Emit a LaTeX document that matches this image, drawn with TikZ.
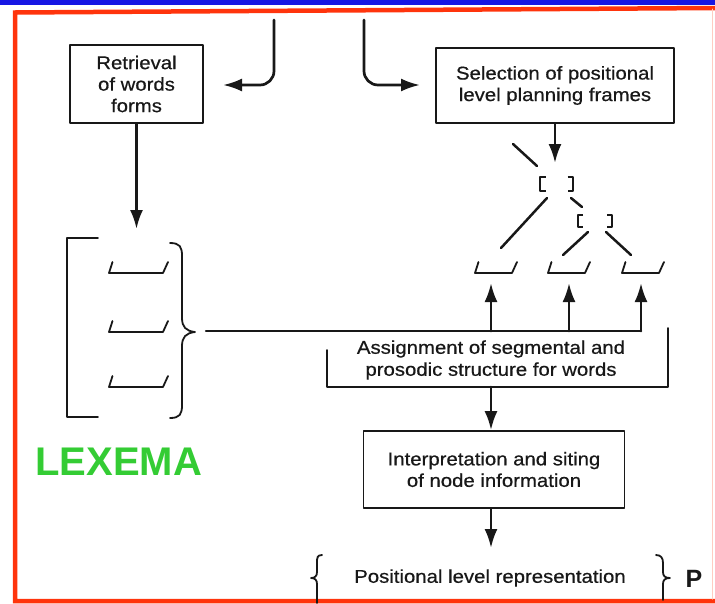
\documentclass[tikz,border=0pt]{standalone}
\usepackage{fontspec}
\setmainfont{Liberation Sans}[FakeStretch=1.1,FakeBold=0.6]
\newfontfamily\labelfont{Liberation Sans}
\usetikzlibrary{arrows.meta}
\definecolor{ink}{RGB}{24,24,24}
\definecolor{framered}{RGB}{255,52,12}
\definecolor{bandblue}{RGB}{22,22,228}
\definecolor{lexgreen}{RGB}{52,204,52}

\begin{document}
\begin{tikzpicture}[x=1pt,y=-1pt,line cap=round,line join=round,
  box/.style={draw=ink,line width=1.7pt,rectangle,inner sep=0pt,align=center,
    text=ink,font=\fontsize{18.5}{21.5}\selectfont},
  txt/.style={inner sep=0pt,align=center,text=ink,font=\fontsize{18.5}{22}\selectfont},
  arr/.style={draw=ink,line width=2.7pt,-{Latex[length=19pt,width=13pt]}},
  wire/.style={draw=ink,line width=2.5pt},
  edge/.style={draw=ink,line width=1.8pt},
  brk/.style={draw=ink,line width=2.5pt,line cap=butt},
  pics/slot/.style={code={\draw[edge] (-#1/2+3.5,-11) -- (-#1/2,0) -- (#1/2-5,0) -- (#1/2,-11);}},
  pics/bpair/.style n args={3}{code={
    \draw[brk] (-#1+#3,-#2) -- (-#1,-#2) -- (-#1,#2) -- (-#1+#3,#2);
    \draw[brk] (#1-#3,-#2) -- (#1,-#2) -- (#1,#2) -- (#1-#3,#2);}}
]
\useasboundingbox (0,0) rectangle (715,603);

% page decoration: blue band and red frame
\fill[bandblue] (0,0) rectangle (715,4.5);
\draw[framered,line width=4.5pt,line cap=butt,line join=miter] (715,8) -- (15,12.5) -- (15,601) -- (715,601);
\draw[framered!25,line width=1pt] (712.5,9) -- (712.5,599);

% boxes
\node[box,minimum width=133pt,minimum height=78pt] (retr) at (136.5,84) {Retrieval\\of words\\forms};
\node[box,minimum width=238pt,minimum height=75pt] (sel) at (555,85.5) {Selection of positional\\level planning frames};
\node[box,minimum width=261pt,minimum height=77pt] (interp) at (494,469.5) {Interpretation and siting\\of node information};
\node[txt] (asg) at (491,360) {Assignment of segmental and\\prosodic structure for words};
\node[txt] (pos) at (490,578) {Positional level representation};
\node[inner sep=0pt,text=ink,font=\labelfont\fontsize{25}{25}\selectfont\bfseries] (plabel) at (694,579) {P};
\node[inner sep=0pt,anchor=base west,text=lexgreen,font=\labelfont\fontsize{40}{40}\selectfont\bfseries] (lex) at (35,475) {LEXEMA};

% incoming hooks at the top
\coordinate (feedL) at (274,20);
\coordinate (feedR) at (364,20);
\coordinate (hookL) at (223,85);
\coordinate (hookR) at (420,85);
\draw[arr,rounded corners=14pt] (feedL) |- (hookL);
\draw[arr,rounded corners=14pt] (feedR) |- (hookR);

% word forms: lexeme store
\coordinate (lexTop) at (136.5,229);
\draw[arr] (retr.south) -- (lexTop);
\draw[edge] (98,238) -- (67,238) -- (67,417) -- (98,417);
\pic at (138.5,273) {slot=59};
\pic at (138.5,332) {slot=59};
\pic at (138.5,387) {slot=59};
\draw[edge] (170,243) .. controls (180,243) and (182,247) .. (182,256) -- (182,318)
  .. controls (182,327) and (186,331) .. (195,332)
  .. controls (186,333) and (182,337) .. (182,346) -- (182,405)
  .. controls (182,414) and (180,418) .. (170,418);

% planning frame tree
\coordinate (frameTop) at (555,163);
\draw[arr] (sel.south -| frameTop) -- (frameTop);
\pic at (556.5,184) {bpair={16.5}{7}{5.5}};
\pic at (595,221) {bpair={17}{6}{5}};
\coordinate (s1) at (496,273);
\coordinate (s2) at (569,273);
\coordinate (s3) at (643,273);
\pic at (s1) {slot=42};
\pic at (s2) {slot=42};
\pic at (s3) {slot=42};
\draw[brk,line cap=round] (513,144) -- (537,166);
\draw[brk,line cap=round] (547,198) -- (501,248);
\draw[brk,line cap=round] (571,198) -- (582,207);
\draw[brk,line cap=round] (588,232) -- (563,255);
\draw[brk,line cap=round] (606,232) -- (631,255);

% bus from the lexeme store to the frame slots
\coordinate (busStart) at (206,331);
\coordinate (b1) at (491,331);
\coordinate (b2) at (569,331);
\coordinate (b3) at (641,331);
\draw[wire] (busStart) -- (b3);
\draw[arr] (b1) -- (b1 |- 0,283);
\draw[arr] (b2) -- (b2 |- 0,283);
\draw[arr] (b3) -- (b3 |- 0,283);

% open box around the assignment stage
\draw[edge] (327,350) -- (327,387) -- (668,387) -- (668,328);
\coordinate (asgFoot) at (491,387);
\draw[arr] (asgFoot) -- (asgFoot |- interp.north);
\coordinate (posTop) at (491,548);
\draw[arr] (interp.south -| posTop) -- (posTop);

% braces around the positional level representation
\draw[edge] (322,555) .. controls (317,555) and (317,558) .. (317,563) -- (317,572)
  .. controls (317,576) and (315,578) .. (311,578)
  .. controls (315,578) and (317,580) .. (317,584) -- (317,603);
\draw[edge] (656,555) .. controls (661,555) and (663,558) .. (663,563) -- (663,572)
  .. controls (663,576) and (665,578) .. (670,578)
  .. controls (665,578) and (663,580) .. (663,584) -- (663,600);
\end{tikzpicture}
\end{document}
